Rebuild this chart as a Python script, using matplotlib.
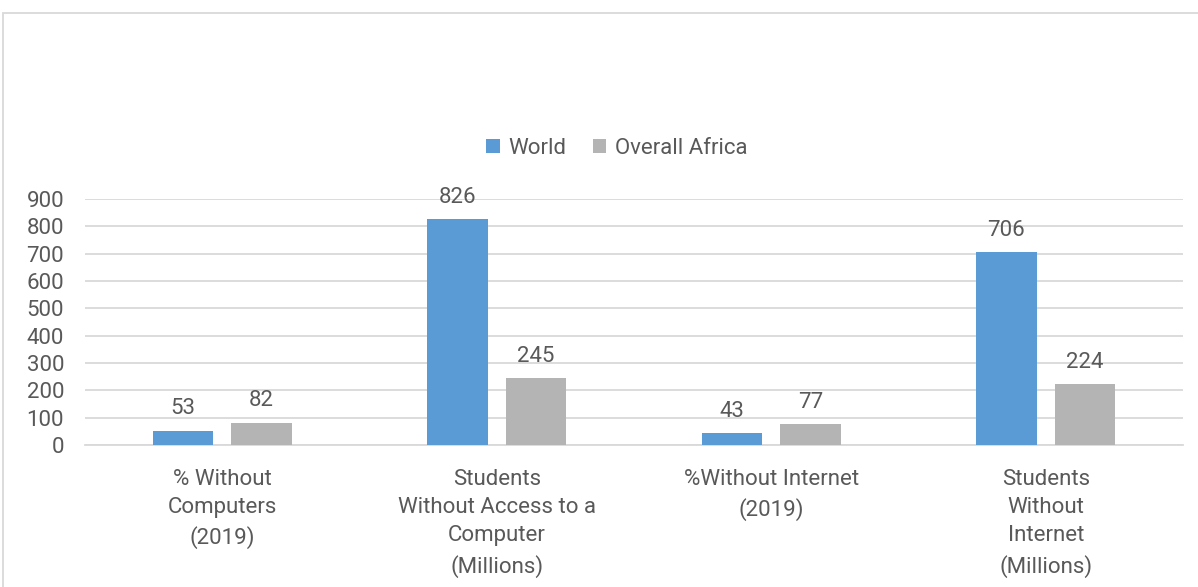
import numpy as np
import matplotlib.pyplot as plt
from matplotlib.patches import Rectangle

plt.rcParams['font.family'] = ['Roboto', 'DejaVu Sans']

categories = ['% Without\nComputers\n(2019)',
              'Students\nWithout Access to a\nComputer\n(Millions)',
              '%Without Internet\n(2019)',
              'Students\nWithout\nInternet\n(Millions)']
world = [53, 826, 43, 706]
africa = [82, 245, 77, 224]
series_names = ['World', 'Overall Africa']

txt = '#595959'
fs = 16
fig = plt.figure(figsize=(11.98, 5.87), dpi=100)
ax = fig.add_axes([85/1198, 1 - 445/587, (1183 - 85)/1198, (445 - 199)/587])

x = np.arange(len(categories))
w = 0.222
b1 = ax.bar(x - 0.143, world, w, color='#5B9BD5', label=series_names[0], zorder=3)
b2 = ax.bar(x + 0.143, africa, w, color='#B4B4B4', label=series_names[1], zorder=3)

for bars in (b1, b2):
    for r in bars:
        ax.annotate(str(int(r.get_height())), (r.get_x() + r.get_width()/2, r.get_height()),
                    xytext=(0, 8), textcoords='offset points', ha='center', va='bottom',
                    fontsize=fs, color=txt, annotation_clip=False)

ax.set_xlim(-0.5, 3.5)
ax.set_ylim(0, 900)
ax.set_yticks(range(0, 901, 100))
ax.set_xticks(x)
ax.set_xticklabels(categories, linespacing=1.46)
ax.tick_params(axis='both', length=0, labelsize=fs, labelcolor=txt)
ax.tick_params(axis='y', pad=15)
ax.tick_params(axis='x', pad=17)
ax.grid(axis='y', color='#d9d9d9', linewidth=1.3, zorder=0)
for s in ['top', 'right', 'left']:
    ax.spines[s].set_visible(False)
ax.spines['bottom'].set_color('#d9d9d9')
ax.spines['bottom'].set_linewidth(1.3)

fig.legend(handles=[b1, b2], loc='center', bbox_to_anchor=(617/1198, 1 - 148/587),
           ncol=2, frameon=False, fontsize=fs, labelcolor=txt,
           handlelength=0.6, handleheight=0.6, handletextpad=0.4, columnspacing=1.2)

fig.add_artist(Rectangle((3/1198, -0.1), 1.1, (587 - 13)/587 + 0.1,
                         transform=fig.transFigure, fill=False,
                         edgecolor='#d9d9d9', linewidth=1.3))

fig.savefig('out.png', dpi=100)
